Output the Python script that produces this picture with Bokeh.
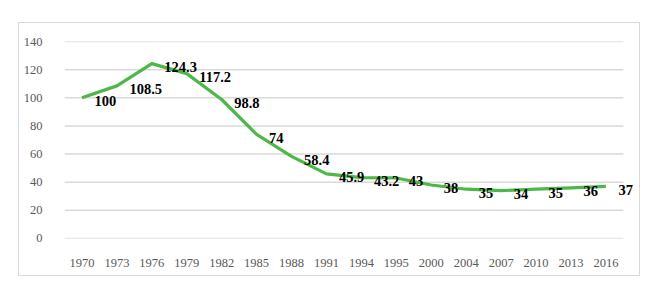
from bokeh.plotting import figure
from bokeh.models import ColumnDataSource, FixedTicker, Range1d, Label
from bokeh.embed import file_html
from bokeh.resources import INLINE

years = ["1970", "1973", "1976", "1979", "1982", "1985", "1988", "1991",
         "1994", "1995", "2000", "2004", "2007", "2010", "2013", "2016"]
values = [100, 108.5, 124.3, 117.2, 98.8, 74, 58.4, 45.9,
          43.2, 43, 38, 35, 34, 35, 36, 37]
labels = ["100", "108.5", "124.3", "117.2", "98.8", "74", "58.4", "45.9",
          "43.2", "43", "38", "35", "34", "35", "36", "37"]
y_ticks = [0, 20, 40, 60, 80, 100, 120, 140]

n = len(years)
idx = list(range(n))
src = ColumnDataSource(dict(x=idx, y=values, label=labels))

# frame extends a little to the right so the last data label is not clipped
p = figure(x_range=Range1d(-0.5, n - 0.01), y_range=Range1d(-0.05, 140.05),
           width=622, height=254, output_backend="svg", toolbar_location=None,
           min_border_left=45, min_border_right=1, min_border_top=18, min_border_bottom=39)
p.margin = (22, 0, 0, 18)
p.styles = {"border": "1px solid #d9d9d9", "box-sizing": "border-box"}
p.outline_line_color = None
p.background_fill_color = "white"

# horizontal gridlines spanning the category bands only
p.segment(x0=[-0.5] * len(y_ticks), x1=[n - 0.5] * len(y_ticks), y0=y_ticks, y1=y_ticks,
          line_color="#d9d9d9", line_width=1.5, level="underlay")

p.line("x", "y", source=src, line_color="#4db848", line_width=3.2, line_join="round")
for xv, yv, t in zip(idx, values, labels):
    p.add_layout(Label(x=xv, y=yv, text=t, x_offset=12.5, y_offset=-3.5,
                       text_align="left", text_baseline="middle", text_color="black",
                       text_font="Liberation Serif", text_font_style="bold",
                       text_font_size="14.5px"))

p.xgrid.grid_line_color = None
p.ygrid.grid_line_color = None
p.yaxis.ticker = FixedTicker(ticks=y_ticks)
p.xaxis.ticker = FixedTicker(ticks=idx)
p.xaxis.major_label_overrides = {i: y for i, y in zip(idx, years)}

for ax in (p.xaxis[0], p.yaxis[0]):
    ax.axis_line_color = None
    ax.major_tick_line_color = None
    ax.minor_tick_line_color = None
    ax.major_label_text_font = "Liberation Serif"
    ax.major_label_text_font_size = "12.5px"
    ax.major_label_text_color = "#595959"
p.yaxis.major_label_standoff = 16
p.xaxis.major_label_standoff = 14

open("out.html", "w").write(file_html(p, INLINE))
